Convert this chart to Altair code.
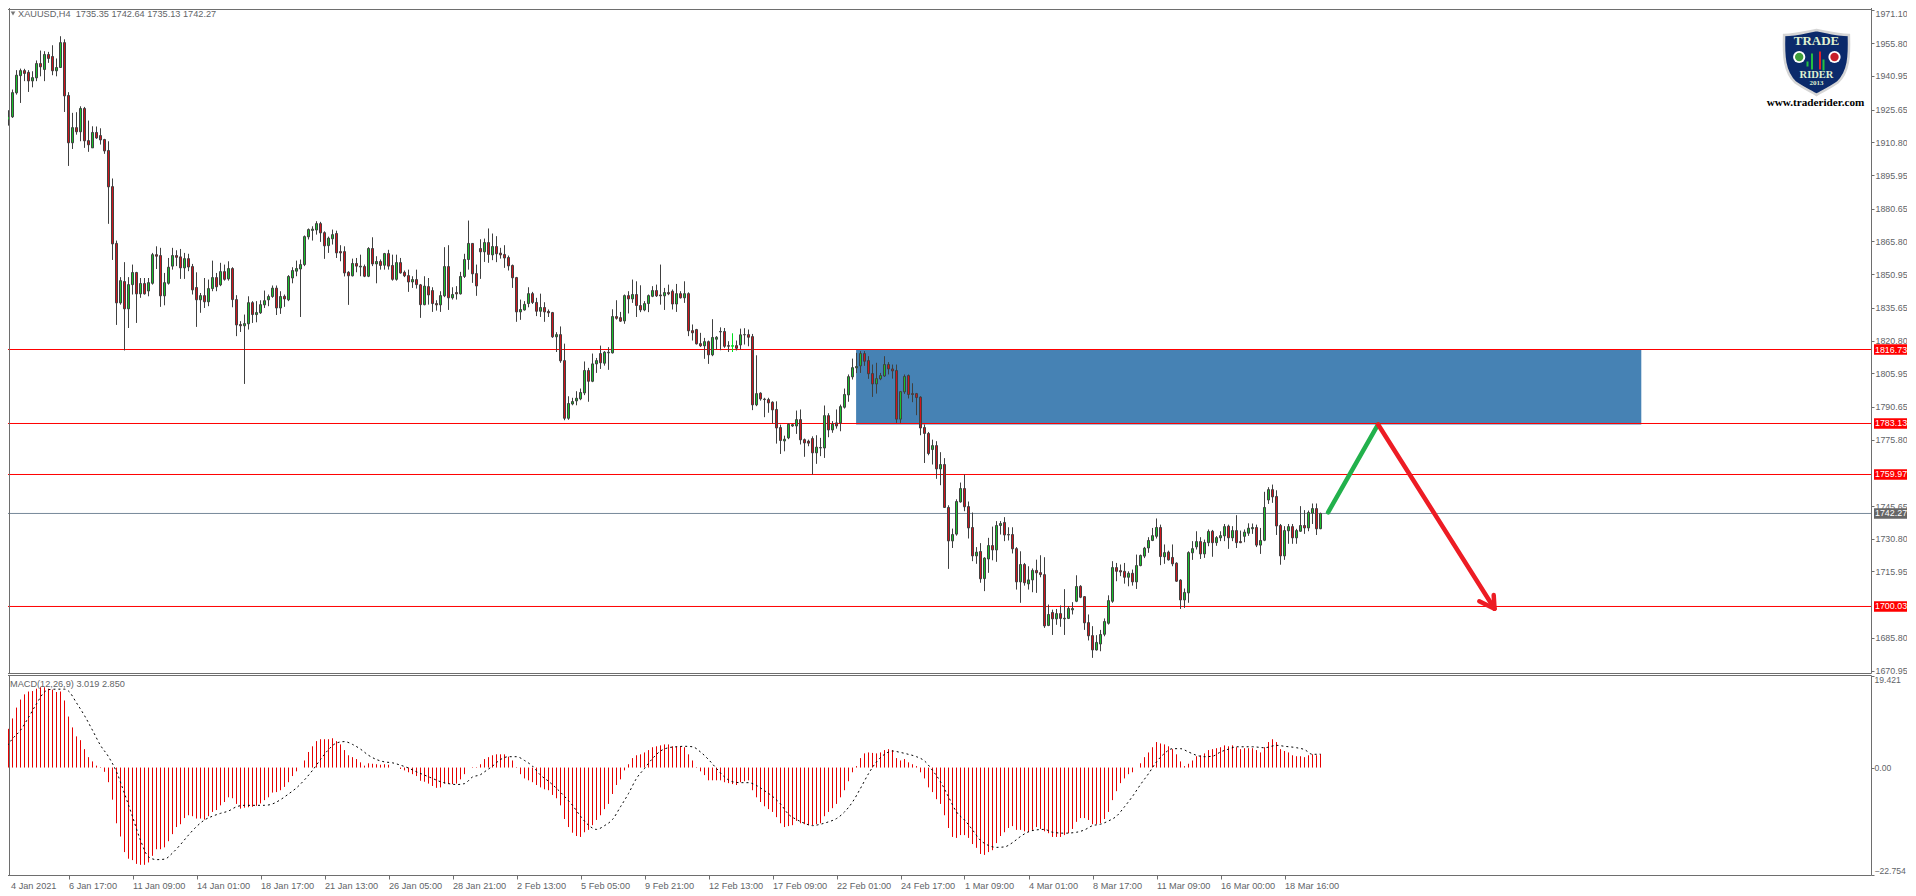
import altair as alt
import pandas as pd

direction = ("GGGGGRRGGR" "GRRGGRRGRG" "RRGRRRRRRG" "RGGRGRGGRR" "GGGRRGRRRG" "RGGRGRGRRR"
             "GGRGGGGGRG" "RGGGGGGGGR" "RGGRRRRGRG" "RGRGRGRRGR" "RRGRRGRRRG" "GRGRGGGRRR"
             "GRGRRRRRRG" "GGRRGRRRGR" "RGGGGGRGGR" "GGGRRGRGRR" "GGGRRGRRGR" "GRRRRGRGGG"
             "RRGRGGRRGR" "RRRRRGGGGR" "RRRGGGRGRG" "GGGGGRRRGG" "GRRRGGRRRR" "RRGRGRRGGG"
             "RRRGRGGRGG" "RRRRGRGGRR" "RGRGRGGGGR" "RRRGGGGGRR" "RGRGGGGGGR" "GRRRRGGGGR"
             "GGRGGGRGRR" "GGGRGGGRRR" "GGRGGRGGRG")

body_hi = [
1921.6,1922.5,1933.4,1941.3,1943.4,1943.4,1942.6,1940.2,1946.6,1946.6,
1950.7,1950.7,1949.8,1944.8,1956.1,1956.1,1932.1,1917.5,1917.5,1926.2,
1926.2,1911.6,1915.3,1915.3,1913.9,1912.1,1907.1,1890.7,1864.9,1848.0,
1847.6,1846.2,1851.7,1851.7,1846.7,1846.7,1847.1,1859.8,1859.8,1859.4,
1847.1,1854.1,1859.4,1859.4,1858.8,1858.0,1858.0,1854.4,1844.9,1841.2,
1841.2,1844.4,1849.4,1849.4,1852.1,1852.1,1853.5,1853.5,1839.4,1828.1,
1828.5,1838.0,1838.0,1833.5,1837.1,1838.9,1840.8,1844.6,1844.6,1840.8,
1840.9,1849.9,1852.6,1853.5,1855.3,1868.0,1871.2,1871.4,1873.9,1873.9,
1869.8,1867.3,1868.9,1869.4,1861.2,1861.2,1851.8,1855.8,1855.8,1854.6,
1854.4,1862.6,1862.6,1856.7,1856.7,1860.3,1860.3,1854.9,1856.2,1856.2,
1851.8,1850.3,1848.5,1848.5,1846.1,1845.5,1845.3,1843.5,1837.6,1841.2,
1854.4,1854.4,1841.7,1842.6,1849.9,1857.6,1864.9,1864.9,1851.2,1862.6,
1865.3,1865.3,1863.5,1863.5,1860.5,1859.9,1858.5,1854.9,1849.4,1834.9,
1837.2,1842.1,1842.1,1838.1,1835.8,1835.8,1834.0,1833.5,1823.5,1823.5,
1811.7,1792.2,1793.1,1794.6,1797.2,1807.2,1807.2,1810.2,1811.7,1814.9,
1815.5,1815.5,1831.7,1831.7,1831.2,1841.2,1841.2,1841.7,1841.7,1836.7,
1837.6,1841.2,1843.5,1843.5,1841.5,1842.6,1842.6,1843.2,1842.1,1842.1,
1842.1,1842.1,1825.3,1825.8,1819.4,1820.3,1820.3,1822.2,1822.3,1824.9,
1824.9,1818.5,1818.5,1818.5,1823.4,1823.5,1823.5,1822.6,1796.7,1796.9,
1794.2,1794.0,1792.8,1789.5,1781.3,1776.0,1782.8,1782.6,1784.9,1784.9,
1775.8,1775.1,1776.3,1772.4,1772.2,1786.7,1786.7,1782.8,1783.4,1790.8,
1796.3,1804.4,1808.5,1809.0,1814.9,1814.9,1811.7,1805.8,1803.5,1804.9,
1809.9,1809.9,1807.9,1807.2,1797.6,1804.5,1804.9,1796.7,1796.7,1795.1,
1781.3,1778.6,1773.1,1773.1,1764.5,1764.5,1745.0,1732.7,1747.7,1753.6,
1753.6,1745.4,1735.9,1724.7,1725.0,1722.0,1727.7,1727.7,1736.8,1737.7,
1738.2,1732.7,1732.7,1726.3,1719.1,1719.1,1712.1,1716.4,1716.4,1715.4,
1714.5,1696.4,1697.3,1696.8,1696.8,1694.7,1699.1,1699.1,1709.1,1709.2,
1704.5,1692.7,1686.8,1683.7,1687.3,1693.2,1702.7,1717.7,1717.7,1716.3,
1716.0,1715.1,1715.1,1718.6,1723.2,1726.5,1730.0,1732.2,1735.9,1735.9,
1724.5,1724.7,1722.3,1719.7,1712.0,1706.4,1724.5,1726.3,1729.5,1729.5,
1729.1,1734.1,1734.2,1731.3,1732.2,1736.3,1736.5,1734.5,1734.5,1729.5,
1733.8,1735.6,1735.9,1735.9,1730.0,1745.0,1753.1,1753.1,1750.0,1736.8,
1734.5,1736.3,1736.3,1734.5,1736.8,1736.8,1742.7,1744.5,1744.5,1742.27]

body_lo = [
1902.7,1921.0,1922.4,1933.3,1941.1,1942.1,1938.7,1938.7,1940.1,1945.1,
1943.9,1948.9,1943.3,1943.3,1944.8,1931.9,1910.6,1910.6,1915.6,1915.6,
1911.5,1909.7,1908.3,1912.8,1911.9,1906.9,1890.6,1864.7,1837.9,1837.9,
1835.2,1835.2,1846.2,1842.0,1842.0,1842.0,1843.3,1846.8,1859.1,1841.1,
1841.1,1846.8,1854.6,1858.6,1853.8,1853.8,1854.2,1843.8,1839.3,1839.3,
1838.4,1838.4,1844.4,1845.2,1846.1,1848.6,1848.8,1839.4,1827.9,1827.5,
1827.5,1828.4,1832.6,1832.6,1833.4,1837.0,1839.3,1840.8,1835.6,1835.6,
1839.7,1839.3,1849.2,1852.3,1853.3,1855.3,1867.9,1870.8,1871.0,1869.7,
1863.8,1863.9,1867.0,1860.6,1860.6,1851.5,1850.2,1850.2,1854.6,1854.2,
1850.0,1850.0,1855.6,1855.6,1854.9,1855.0,1854.6,1848.6,1848.6,1851.5,
1850.2,1847.4,1847.4,1846.2,1837.1,1837.1,1841.5,1837.6,1837.0,1837.0,
1841.1,1840.2,1840.2,1842.0,1842.0,1849.9,1857.6,1851.1,1845.6,1861.1,
1861.1,1859.9,1859.7,1860.2,1859.7,1858.3,1854.7,1849.3,1833.8,1833.8,
1834.7,1837.6,1838.1,1834.1,1834.1,1833.8,1833.4,1822.5,1822.5,1811.6,
1785.5,1785.5,1792.0,1793.4,1794.3,1797.0,1802.3,1802.3,1810.2,1810.7,
1810.5,1815.2,1815.2,1830.9,1829.6,1829.7,1839.7,1839.7,1836.7,1834.7,
1834.7,1837.6,1840.9,1841.1,1841.1,1841.1,1842.0,1837.4,1837.4,1840.2,
1840.2,1825.2,1824.3,1819.3,1818.4,1818.4,1814.3,1814.3,1821.4,1824.7,
1818.2,1818.2,1818.2,1817.3,1818.8,1823.4,1822.3,1791.6,1791.6,1794.3,
1794.0,1792.5,1789.3,1781.1,1775.4,1775.2,1776.6,1782.0,1782.0,1775.7,
1774.3,1774.2,1769.8,1769.8,1772.0,1772.0,1780.2,1780.2,1782.0,1783.4,
1790.5,1796.1,1804.3,1808.4,1809.3,1811.4,1805.7,1801.1,1801.1,1803.4,
1804.7,1807.9,1807.0,1785.1,1785.1,1797.5,1796.3,1796.3,1794.9,1781.1,
1778.6,1769.5,1771.3,1762.5,1762.5,1745.0,1729.8,1729.8,1732.9,1747.5,
1745.3,1735.7,1723.0,1723.0,1712.6,1712.7,1721.6,1725.7,1725.7,1736.8,
1732.5,1732.5,1726.2,1711.2,1711.2,1710.8,1710.3,1712.1,1715.3,1714.5,
1691.2,1691.4,1694.4,1694.4,1694.6,1694.4,1694.6,1698.5,1702.4,1704.2,
1692.6,1686.7,1680.3,1680.3,1683.0,1687.4,1692.4,1702.4,1716.0,1715.7,
1713.3,1713.3,1711.2,1711.2,1718.6,1722.9,1726.6,1730.0,1731.9,1722.7,
1722.6,1721.2,1719.4,1711.5,1703.0,1703.0,1706.2,1724.4,1727.1,1723.9,
1723.9,1729.0,1729.0,1729.0,1731.2,1732.1,1731.2,1731.2,1729.0,1729.0,
1731.9,1733.3,1735.3,1727.9,1727.9,1730.1,1748.4,1749.8,1736.6,1723.0,
1723.0,1734.4,1731.2,1731.2,1734.2,1735.7,1735.7,1742.4,1735.3,1735.35]

highs = [
1921.9,1925.4,1934.8,1943.6,1944.3,1944.2,1943.6,1943.1,1948.0,1952.5,
1952.2,1951.9,1954.9,1948.9,1959.0,1957.6,1933.6,1924.2,1924.5,1927.2,
1926.9,1920.7,1918.1,1918.0,1917.2,1912.4,1911.3,1894.4,1866.2,1849.6,
1856.4,1849.6,1855.3,1852.0,1849.2,1849.2,1849.2,1860.6,1863.6,1862.9,
1851.5,1858.3,1862.9,1861.8,1862.4,1860.6,1860.2,1855.6,1851.8,1842.4,
1849.2,1848.5,1857.1,1851.5,1856.1,1855.3,1856.8,1854.1,1841.4,1829.6,
1832.6,1840.9,1838.7,1838.7,1839.1,1843.5,1841.7,1845.8,1845.8,1843.2,
1841.7,1850.5,1854.1,1857.1,1857.6,1868.5,1871.7,1872.7,1875.0,1874.7,
1870.4,1868.0,1871.2,1870.7,1864.1,1863.6,1852.3,1858.0,1858.3,1859.8,
1855.3,1863.2,1867.7,1859.1,1857.6,1860.6,1862.0,1859.8,1859.8,1858.3,
1852.6,1853.0,1850.0,1853.0,1846.5,1850.0,1849.2,1845.0,1839.1,1843.2,
1863.2,1864.1,1845.0,1845.5,1852.0,1860.2,1875.3,1864.9,1855.3,1866.8,
1867.1,1871.7,1869.4,1868.2,1862.9,1864.1,1859.4,1855.3,1849.7,1839.4,
1838.7,1845.0,1842.9,1840.2,1842.1,1838.2,1834.9,1833.8,1824.6,1827.2,
1819.4,1795.5,1794.8,1797.8,1799.0,1811.3,1808.4,1814.9,1812.9,1818.5,
1816.0,1817.8,1835.0,1839.1,1833.8,1841.7,1843.2,1848.5,1847.7,1845.9,
1838.7,1841.7,1845.5,1846.2,1855.3,1844.7,1846.2,1844.0,1846.5,1843.2,
1847.7,1842.7,1828.1,1826.1,1824.3,1822.0,1820.8,1830.5,1822.8,1826.8,
1826.5,1820.5,1824.1,1820.8,1826.2,1826.4,1825.8,1823.8,1814.1,1797.3,
1794.8,1794.8,1793.2,1793.2,1782.6,1777.6,1783.1,1782.9,1789.0,1789.5,
1776.3,1775.8,1777.3,1777.8,1776.6,1791.3,1787.8,1784.2,1789.5,1791.7,
1799.0,1805.4,1812.6,1815.2,1816.0,1816.0,1813.7,1809.9,1810.7,1806.1,
1813.7,1811.0,1809.9,1809.9,1797.8,1805.4,1805.4,1801.4,1797.0,1795.5,
1782.7,1779.3,1775.8,1775.1,1770.1,1767.4,1746.0,1735.4,1748.7,1756.3,
1760.0,1747.7,1742.7,1727.0,1728.8,1722.4,1731.2,1736.3,1738.8,1738.8,
1740.6,1736.0,1736.0,1727.0,1725.1,1719.8,1718.3,1717.3,1721.3,1723.3,
1722.4,1700.9,1698.6,1698.9,1700.5,1707.9,1700.2,1702.0,1714.2,1709.7,
1704.7,1696.4,1691.1,1687.0,1689.4,1694.6,1705.1,1720.6,1719.8,1719.1,
1719.8,1716.0,1716.8,1723.6,1723.6,1727.1,1731.5,1735.7,1740.0,1737.2,
1728.2,1725.4,1728.2,1720.1,1712.4,1708.2,1725.1,1729.7,1734.2,1731.5,
1730.4,1735.0,1734.8,1732.0,1734.2,1737.5,1737.2,1736.5,1741.5,1734.5,
1735.0,1737.8,1737.7,1737.2,1735.7,1752.1,1754.2,1755.4,1752.8,1737.5,
1736.5,1737.5,1737.5,1735.3,1745.6,1743.8,1743.6,1746.8,1746.8,1742.64]

lows = [
1902.5,1918.4,1921.9,1932.5,1928.7,1938.6,1933.7,1935.8,1938.6,1940.8,
1938.6,1946.9,1941.3,1940.8,1944.6,1924.6,1900.1,1907.8,1914.3,1911.3,
1908.3,1906.5,1908.3,1912.4,1909.8,1905.6,1873.8,1857.4,1827.9,1837.1,
1816.3,1826.5,1841.7,1828.8,1840.2,1841.7,1840.9,1846.2,1853.3,1836.1,
1836.8,1846.2,1853.0,1854.6,1848.8,1848.8,1852.3,1841.7,1827.0,1833.4,
1835.6,1836.4,1843.2,1843.2,1845.5,1848.0,1848.0,1835.9,1822.8,1824.7,
1801.1,1825.8,1828.8,1829.1,1832.9,1835.6,1836.4,1840.2,1832.4,1832.9,
1836.1,1838.7,1846.8,1850.0,1831.5,1854.6,1866.7,1866.2,1868.9,1865.6,
1857.9,1860.6,1864.4,1858.3,1856.8,1849.9,1837.0,1849.9,1851.8,1850.0,
1849.6,1849.6,1854.6,1846.8,1853.0,1853.0,1853.0,1848.0,1848.0,1851.2,
1849.6,1842.9,1844.7,1844.4,1831.1,1836.8,1837.1,1833.8,1834.4,1833.8,
1840.5,1834.7,1839.4,1839.4,1841.7,1849.2,1853.0,1847.0,1841.1,1848.8,
1856.5,1856.1,1857.3,1856.4,1858.0,1853.8,1852.6,1844.7,1829.3,1830.2,
1834.4,1835.9,1837.4,1831.9,1831.5,1829.3,1831.5,1822.0,1815.6,1810.7,
1784.6,1784.8,1791.4,1791.4,1793.7,1796.0,1793.0,1801.9,1806.1,1807.9,
1809.4,1807.5,1814.9,1830.3,1829.3,1828.4,1833.1,1837.9,1831.5,1833.7,
1834.1,1833.7,1840.5,1840.6,1837.1,1834.7,1841.4,1834.9,1833.8,1839.9,
1837.9,1822.8,1820.8,1819.0,1817.9,1812.5,1810.2,1813.7,1816.7,1816.4,
1817.5,1815.6,1815.6,1816.3,1816.7,1819.0,1818.2,1789.2,1791.0,1793.5,
1786.0,1788.0,1783.1,1774.0,1769.3,1770.5,1776.0,1781.6,1778.4,1773.6,
1768.0,1772.8,1759.9,1764.8,1768.3,1767.5,1776.9,1778.9,1780.8,1779.6,
1789.9,1793.0,1803.1,1806.0,1806.1,1809.3,1803.4,1795.2,1796.7,1802.8,
1804.3,1805.4,1803.5,1783.4,1783.4,1796.6,1794.5,1792.8,1786.9,1777.8,
1765.2,1768.7,1764.5,1758.0,1755.1,1744.8,1717.1,1726.6,1732.2,1747.2,
1743.3,1730.9,1720.6,1719.4,1710.8,1707.0,1715.3,1721.0,1720.3,1732.7,
1729.7,1730.0,1724.1,1707.7,1701.7,1709.5,1707.7,1706.5,1706.2,1713.3,
1690.3,1691.1,1687.1,1691.7,1690.8,1687.1,1694.3,1696.4,1702.0,1703.8,
1689.4,1684.6,1676.7,1680.0,1679.7,1686.5,1691.8,1701.7,1711.5,1713.8,
1710.4,1709.2,1709.5,1708.0,1718.3,1722.0,1724.4,1729.7,1730.9,1718.8,
1719.4,1720.9,1718.3,1711.2,1698.9,1699.4,1701.7,1721.2,1725.9,1721.6,
1722.1,1727.4,1722.6,1727.6,1729.7,1729.7,1726.2,1729.7,1726.6,1728.8,
1729.2,1732.1,1733.0,1727.0,1723.9,1729.7,1746.6,1747.1,1732.5,1719.0,
1721.2,1728.5,1728.5,1728.5,1733.9,1733.0,1734.2,1737.5,1732.5,1735.13]

macd_hist = [
6.3,8.2,10.4,12.7,14.4,15.5,16.1,16.2,16.7,17.0,
17.0,16.7,16.5,16.0,16.1,14.2,10.8,8.5,6.6,5.8,
3.9,2.2,1.3,0.4,0.1,-0.9,-3.1,-6.8,-11.8,-14.6,
-17.9,-19.3,-19.6,-20.4,-20.6,-20.6,-20.1,-18.7,-17.3,-17.3,
-16.9,-15.6,-14.1,-12.6,-12.0,-10.7,-10.1,-10.3,-10.8,-10.8,
-11.0,-10.3,-9.4,-9.0,-8.0,-7.3,-6.3,-6.5,-7.7,-8.7,
-8.5,-8.4,-8.3,-8.1,-7.6,-6.9,-6.3,-5.3,-5.2,-4.8,
-4.1,-3.1,-1.8,-0.8,0,1.5,3.3,4.5,5.6,6.0,
6.0,6.0,6.2,5.6,4.9,3.7,2.6,2.2,1.8,1.1,
0.4,0.9,0.8,0.7,0.6,0.7,0.6,0,0,-0.3,
-0.6,-1.0,-1.4,-1.8,-2.8,-3.0,-3.4,-3.9,-4.3,-4.2,
-3.4,-3.5,-3.5,-3.4,-2.5,-1.4,0,0.1,0.1,0.7,
1.8,2.2,2.6,2.8,2.8,2.8,2.3,1.5,0.1,-1.4,
-2.3,-2.7,-3.1,-3.7,-4.2,-4.6,-4.8,-5.8,-6.5,-8.0,
-10.9,-12.6,-13.8,-14.5,-14.7,-13.7,-13.2,-12.2,-11.1,-10.1,
-8.8,-7.7,-5.6,-3.7,-2.5,-0.6,0.7,2.0,2.6,2.8,
3.2,3.7,4.3,4.5,4.7,4.9,4.9,4.5,4.5,4.5,
4.3,2.8,1.5,0.1,-0.8,-1.6,-2.7,-2.7,-2.7,-2.7,
-3.1,-3.3,-3.5,-3.7,-3.1,-2.9,-2.7,-4.8,-6.3,-7.3,
-8.2,-8.8,-9.4,-10.5,-11.8,-12.6,-12.4,-12.2,-11.3,-11.8,
-12.0,-12.2,-12.2,-12.0,-11.8,-10.3,-9.4,-8.6,-7.7,-6.3,
-4.8,-2.9,-1.0,0.3,2.0,3.0,3.2,3.1,3.0,3.2,
3.7,3.9,3.7,2.0,1.5,1.8,1.1,0.7,0.3,-1.0,
-2.3,-4.2,-5.2,-6.7,-7.7,-10.1,-12.8,-14.7,-14.9,-14.3,
-14.3,-14.9,-16.2,-17.0,-18.3,-18.5,-17.9,-17.5,-16.0,-14.5,
-13.7,-12.8,-12.4,-13.2,-13.2,-13.5,-13.7,-13.2,-12.6,-13.0,
-13.5,-13.9,-14.7,-14.7,-14.7,-14.3,-13.9,-13.0,-11.5,-10.7,
-10.7,-11.1,-12.0,-12.0,-11.8,-10.9,-9.4,-6.9,-5.0,-3.3,
-2.3,-1.4,-1.0,0,0.9,2.2,3.2,4.3,5.4,5.1,
4.9,4.5,3.9,2.8,1.3,0.3,0.8,1.5,2.4,2.6,
3.0,3.7,3.9,4.1,4.3,4.7,4.5,4.7,4.3,3.9,
4.1,4.1,4.1,3.7,3.2,4.3,5.4,6.0,5.4,3.9,
3.5,3.2,2.6,2.4,2.4,2.2,2.6,2.8,2.6,2.85]

signal_bar = [0,2,4,6,8,10,11,13,15,16,18,20,22,24,26,28,30,32,34,36,38,40,42,44,46,48,50,52,54,56,58,60,63,65,67,69,71,73,75,77,79,81,83,85,87,89,91,93,95,97,99,101,103,105,107,109,111,113,115,117,119,
 120,122,124,126,128,130,132,134,136,138,140,142,144,146,148,150,152,154,156,158,160,162,164,166,168,170,172,174,176,178,180,182,184,186,188,190,192,194,196,198,200,202,204,206,208,210,212,214,216,218,220,222,224,226,228,230,232,234,236,238,
 240,242,244,246,248,250,252,254,256,258,260,262,265,268,270,272,274,276,278,280,282,284,286,288,290,292,294,296,298,300,302,304,306,308,312,315,318,320,323,325,327,329]
signal_val = [3.8,6.1,7.9,10.6,13.5,16.0,16.5,16.6,16.6,16.2,13.7,11.0,7.9,4.7,2.3,-0.9,-5.5,-10.4,-15.4,-18.9,-19.5,-19.4,-18.1,-16.3,-14.3,-12.5,-11.1,-10.3,-9.7,-9.2,-8.3,-8.0,-8.0,-8.0,-7.7,-6.8,-5.6,-4.3,-2.6,-0.6,1.7,3.8,5.2,5.5,4.9,3.9,2.6,1.7,1.2,1.0,0.5,-0.1,-0.9,-1.6,-2.3,-3.0,-3.4,-3.6,-3.4,-2.0,-1.5,
 -0.9,0.3,1.7,2.3,2.3,1.5,0.3,-1.6,-2.9,-4.4,-6.1,-8.0,-10.3,-12.2,-13.1,-12.3,-11.0,-8.3,-5.5,-2.3,-0.2,1.9,3.5,4.2,4.4,4.5,4.4,3.3,1.7,-0.2,-2.0,-3.0,-3.2,-3.2,-3.8,-4.9,-6.1,-7.7,-9.9,-11.0,-11.8,-12.3,-12.0,-11.5,-10.8,-9.4,-7.3,-4.4,-1.3,1.2,2.8,3.5,3.2,2.8,2.3,1.4,-0.6,-3.0,-6.2,-9.4,
 -11.1,-13.2,-15.4,-16.5,-16.9,-16.8,-15.9,-14.6,-13.6,-13.2,-13.1,-13.7,-13.9,-13.7,-13.2,-12.3,-12.0,-11.3,-10.3,-8.3,-6.1,-3.6,-1.3,1.2,3.0,4.0,4.0,3.3,2.6,2.3,2.4,3.3,3.9,4.4,4.4,4.2,4.7,4.5,4.2,3.8,2.8,2.85]

date_labels = ["4 Jan 2021","6 Jan 17:00","11 Jan 09:00","14 Jan 01:00","18 Jan 17:00","21 Jan 13:00","26 Jan 05:00",
               "28 Jan 21:00","2 Feb 13:00","5 Feb 05:00","9 Feb 21:00","12 Feb 13:00","17 Feb 09:00","22 Feb 01:00",
               "24 Feb 17:00","1 Mar 09:00","4 Mar 01:00","8 Mar 17:00","11 Mar 09:00","16 Mar 00:00","18 Mar 16:00"]
date_bars = [16 * k for k in range(len(date_labels))]
price_ticks = [1971.10,1955.80,1940.95,1925.65,1910.80,1895.95,1880.65,1865.80,1850.95,1835.65,1820.80,
               1805.95,1790.65,1775.80,1745.65,1730.80,1715.95,1685.80,1670.95]
red_levels = [1816.73,1783.13,1759.97,1700.03]
last_price = 1742.27
macd_ticks = [19.421,0.0,-22.754]

zone_bars = [212.9,409.2]
zone_prices = [1816.73,1782.7]
up_leg_bar = [330.9,343.4]; up_leg_price = [1742.8,1782.7]
down_bar = [343.4,372.5,368.7,372.5,372.3]
down_price = [1782.7,1699.0,1702.4,1699.0,1705.2]
down_group = [0,0,1,1,1]

assert len(direction)==len(body_hi)==len(body_lo)==len(highs)==len(lows)==len(macd_hist)==330,(len(direction),len(body_hi),len(body_lo),len(highs),len(lows),len(macd_hist))
assert len(signal_bar)==len(signal_val),(len(signal_bar),len(signal_val))

W, H1, H2 = 1868, 670, 200
FONT = "Liberation Sans"; FS = 8.9; TXT = "#5f6468"; FRAME = "#6e6e6e"
xdom = [-0.375, 466.625]
xscale = alt.Scale(domain=xdom, nice=False, zero=False, padding=0)
yscale = alt.Scale(domain=[1669.82, 1974.09], nice=False, zero=False)
AXY = alt.Axis(values=price_ticks, orient="right", format=".2f", grid=False, domain=False, title=None,
        tickSize=3, tickColor=FRAME, labelColor=TXT, labelFont=FONT, labelFontSize=FS, labelPadding=1, labelOverlap=False, labelBound=False, labelFlush=False,
        labelBaseline=alt.expr("datum.value>1970?'top':'middle'"))
X = alt.X("i:Q", scale=xscale, axis=None)
def Y(f):
    return alt.Y(f, scale=yscale, axis=AXY)

df = pd.DataFrame({"i": range(330), "dir": list(direction), "t": body_hi, "b": body_lo, "h": highs, "l": lows, "m": macd_hist})
sig = pd.DataFrame({"i": signal_bar, "v": signal_val})

zone = alt.Chart(pd.DataFrame({"a":[zone_bars[0]],"b":[zone_bars[1]],"p":[zone_prices[0]],"q":[zone_prices[1]]})).mark_rect(color="#4682B4").encode(
    x=alt.X("a:Q", scale=xscale, axis=None), x2="b:Q", y=Y("p:Q"), y2="q:Q")
levels = alt.Chart(pd.DataFrame({"p": red_levels})).mark_rule(color="#ff0000", strokeWidth=1).encode(y=Y("p:Q"))
lastl = alt.Chart(pd.DataFrame({"p": [last_price]})).mark_rule(color="#778899", strokeWidth=1).encode(y=Y("p:Q"))
wicks = alt.Chart(df).mark_rule(strokeWidth=1).encode(
    x=X, y=Y("l:Q"), y2="h:Q",
    color=alt.condition("datum.i==182", alt.value("#00e020"), alt.value("#404040")))
bodies = alt.Chart(df).mark_bar(size=2, strokeWidth=1).encode(
    x=X, y=Y("b:Q"), y2="t:Q",
    fill=alt.Fill("dir:N", scale=alt.Scale(domain=["G","R"], range=["#19c02c","#d0141c"]), legend=None),
    stroke=alt.condition("datum.i==182", alt.value("#00e020"), alt.value("#404040")))
up = alt.Chart(pd.DataFrame({"i": up_leg_bar, "p": up_leg_price})).mark_line(color="#22b14c", strokeWidth=4.5, strokeCap="round").encode(
    x=X, y=Y("p:Q"))
down = alt.Chart(pd.DataFrame({"i": down_bar, "p": down_price, "g": down_group, "o": range(5)})).mark_line(color="#ed1c24", strokeWidth=4.5, strokeCap="round", strokeJoin="round").encode(
    x=X, y=Y("p:Q"), detail="g:N", order="o:Q")

boxes_df = pd.DataFrame({"p": red_levels + [last_price], "c": ["#ff0000"]*4 + ["#666666"]})
boxes_df["hi"] = boxes_df.p + 2.4
boxes_df["lo"] = boxes_df.p - 2.4
boxes_df["s"] = boxes_df.p.map(lambda v: f"{v:.2f}")
boxes = alt.Chart(boxes_df).mark_rect().encode(
    x=alt.value(W+3), x2=alt.value(W+38), y=Y("hi:Q"), y2="lo:Q", color=alt.Color("c:N", scale=None))
box_txt = alt.Chart(boxes_df).mark_text(align="left", baseline="middle", color="#ffffff", font=FONT, fontSize=FS).encode(
    x=alt.value(W+4), y=Y("p:Q"), text="s:N")

def label(txt, x, y, size=FS, color=TXT, font=FONT, weight="normal", align="left"):
    return alt.Chart(pd.DataFrame({"s": [txt]})).mark_text(align=align, baseline="middle", color=color, font=font, fontSize=size, fontWeight=weight).encode(
        x=alt.value(x), y=alt.value(y), text="s:N")

ORX, ORY = 2.5, 2.5
def L(txt, px, py, **k):
    return label(txt, px-ORX, py-ORY, **k)
def P(path, px, py, size, fill, stroke=None, sw=1):
    kw = dict(shape=path, size=size, fill=fill, opacity=1, filled=True)
    if stroke: kw.update(stroke=stroke, strokeWidth=sw)
    return alt.Chart(pd.DataFrame({"a":[0]})).mark_point(**kw).encode(x=alt.value(px-ORX), y=alt.value(py-ORY))
def V(px, y1, y2, col, w=2):
    return alt.Chart(pd.DataFrame({"a":[0]})).mark_rule(color=col, strokeWidth=w).encode(x=alt.value(px-ORX), y=alt.value(y1-ORY), y2=alt.value(y2-ORY))

shield = "M -1 -0.85 C -0.6 -0.85 -0.3 -0.95 0 -1 C 0.3 -0.95 0.6 -0.85 1 -0.85 C 1.02 -0.2 1.0 0.3 0.65 0.62 C 0.4 0.8 0.15 0.9 0 1 C -0.15 0.9 -0.4 0.8 -0.65 0.62 C -1.0 0.3 -1.02 -0.2 -1 -0.85 Z"
logo = [
    P(shield, 1816, 62, 4200, "#0b2a6b", stroke="#d5d5d5", sw=2.5),
    L("TRADE", 1816, 40.5, size=13, color="#dff0d0", font="Liberation Serif", weight="bold", align="center"),
    L("RIDER", 1816, 74, size=10.5, color="#dff0d0", font="Liberation Serif", weight="bold", align="center"),
    L("2013", 1816, 82.5, size=7, color="#dff0d0", font="Liberation Serif", weight="bold", align="center"),
    P("circle", 1798.7, 56.5, 150, "#ffffff"), P("circle", 1798.7, 56.5, 70, "#3f9e3a"),
    P("circle", 1834, 56.5, 150, "#ffffff"), P("circle", 1834, 56.5, 70, "#c8202a"),
    V(1807, 61, 66, "#22c040"), V(1811.5, 53, 69, "#22c040"), V(1819.5, 51, 69, "#e0202a"), V(1823, 59, 70, "#22c040"),
    L("www.traderider.com", 1815, 102.5, size=11.2, color="#000000", font="Liberation Serif", weight="bold", align="center"),
]
header = [
    L("XAUUSD,H4\u00a0\u00a01735.35 1742.64 1735.13 1742.27", 17.5, 13, size=9.2),
    P("triangle-down", 12.5, 13, 22, "#777777"),
]
# the page's 8px margin clips anything further up or left, so the frame's left and top edges sit at that limit
frame_left = alt.Chart(pd.DataFrame({"a":[0]})).mark_rule(color=FRAME, strokeWidth=1).encode(x=alt.value(6.5))
frame_top = alt.Chart(pd.DataFrame({"a":[0]})).mark_rule(color=FRAME, strokeWidth=1).encode(y=alt.value(6.5))

top = alt.layer(zone, levels, lastl, wicks, bodies, up, down, boxes, box_txt, frame_left, frame_top, *header, *logo).properties(width=W, height=H1)

macd_y = alt.Scale(domain=[-22.754, 19.6], nice=False, zero=False)
expr = "{" + ",".join(f"'{b}':'{s}'" for b, s in zip(date_bars, date_labels)) + "}[datum.value]"
AXX2 = alt.Axis(values=date_bars, labelExpr=expr, orient="bottom", labelAlign="left", grid=False, domain=False, title=None,
        tickSize=4, tickColor=FRAME, labelColor=TXT, labelFont=FONT, labelFontSize=9.2, labelPadding=2, labelOverlap=False, labelBound=False, labelFlush=False,
        labelOffset=alt.expr("datum.value==0?6:0"))
AXY2 = alt.Axis(values=macd_ticks, orient="right", grid=False, domain=False, tickSize=3, tickColor=FRAME, title=None,
        labelColor=TXT, labelFont=FONT, labelFontSize=8.6, labelPadding=0, labelOverlap=False, labelBound=False, labelFlush=False,
        labelExpr="datum.value==0?'0.00':format(datum.value,'.3f')",
        labelBaseline=alt.expr("datum.value>1?'top':datum.value<-1?'bottom':'middle'"))
hist = alt.Chart(df).mark_rule(color="#e60000", strokeWidth=1).encode(
    x=alt.X("i:Q", scale=xscale, axis=AXX2),
    y=alt.Y("m:Q", scale=macd_y, axis=AXY2),
    y2=alt.datum(0))
signal = alt.Chart(sig).mark_line(color="#000000", strokeWidth=1, strokeDash=[2,3], interpolate="monotone").encode(
    x=alt.X("i:Q", scale=xscale, axis=AXX2), y=alt.Y("v:Q", scale=macd_y, axis=AXY2))
macd_title = label("MACD(12,26,9) 3.019 2.850", 7, 9, size=9.2)
bottom = alt.layer(hist, signal, frame_left, macd_title).properties(width=W, height=H2)

chart = alt.vconcat(top, bottom, spacing=2, bounds="flush", padding={"left":-6,"top":-6,"right":-3,"bottom":0}, background="#ffffff").configure_view(stroke=FRAME, strokeWidth=1)
chart.save("out.html", embed_options={"renderer": "svg", "actions": False})
